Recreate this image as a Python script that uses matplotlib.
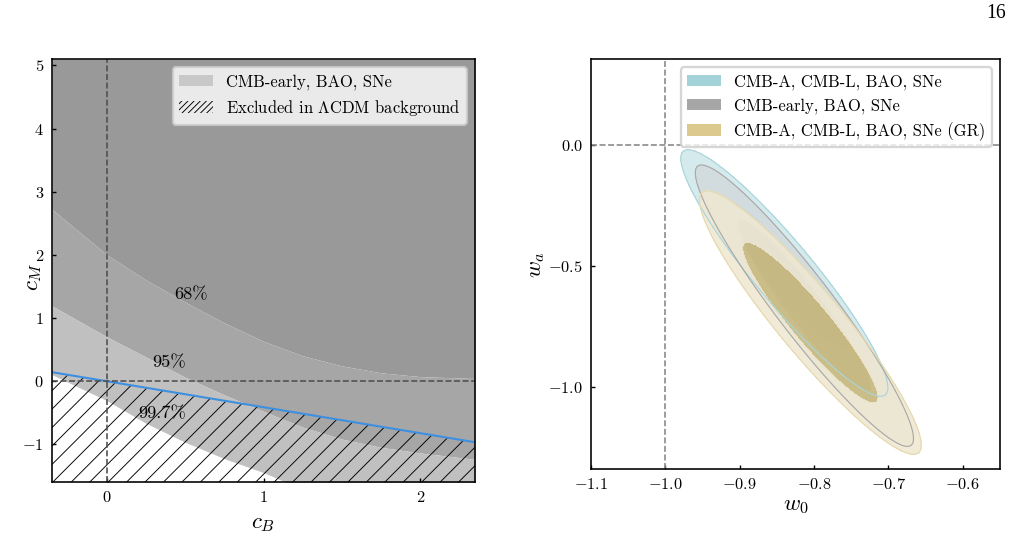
import numpy as np
import matplotlib
matplotlib.use('Agg')
import matplotlib.pyplot as plt
from matplotlib.patches import Patch

plt.rcParams['font.family'] = 'serif'
plt.rcParams['font.serif'] = ['cmr10']
plt.rcParams['mathtext.fontset'] = 'cm'
plt.rcParams['axes.formatter.use_mathtext'] = True
plt.rcParams['hatch.linewidth'] = 0.4
plt.rcParams['xtick.direction'] = 'in'
plt.rcParams['ytick.direction'] = 'in'

# left panel: c_B - c_M confidence regions (CMB-early, BAO, SNe)
cb_grid = [-0.35, 0.0, 0.25, 0.5, 0.75, 1.0, 1.25, 1.5, 1.75, 2.0, 2.35]
cm_68 = [2.72, 2.0, 1.6, 1.25, 0.92, 0.63, 0.4, 0.24, 0.13, 0.07, 0.04]
cm_95 = [1.19, 0.7, 0.38, 0.06, -0.22, -0.48, -0.73, -0.92, -1.05, -1.14, -1.24]
cm_997 = [0.1, -0.31, -0.67, -0.97, -1.23, -1.45, -1.72, -1.95, -2.15, -2.3, -2.5]
cb_line = [-0.35, 2.35]
cm_line = [0.14, -0.97]
conf_labels = ['68%', '95%', '99.7%']
conf_cb = [0.54, 0.40, 0.35]
conf_cm = [1.37, 0.29, -0.51]

# right panel: w0 - wa posteriors (gaussian approximation)
datasets = ['CMB-A, CMB-L, BAO, SNe', 'CMB-early, BAO, SNe',
            'CMB-A, CMB-L, BAO, SNe (GR)']
w0_mean = [-0.84, -0.813, -0.805]
wa_mean = [-0.53, -0.665, -0.735]
w0_sigma = [0.056, 0.059, 0.06]
wa_sigma = [0.205, 0.234, 0.219]
corr = [-0.93, -0.944, -0.93]

fig = plt.figure(figsize=(1014 / 166, 550 / 166), dpi=166)

# ---- left panel
ax1 = fig.add_axes([0.0513, 0.1236, 0.4172, 0.769])
ax1.set_xlim(-0.35, 2.35)
ax1.set_ylim(-1.6, 5.1)
ax1.fill_between(cb_grid, cm_68, 5.1, color='#999999', lw=0)
ax1.fill_between(cb_grid, cm_95, cm_68, color='#a6a6a6', lw=0)
ax1.fill_between(cb_grid, cm_997, cm_95, color='#c0c0c0', lw=0)
ax1.fill_between(cb_line, cm_line, -1.6, facecolor='none', edgecolor='black',
                 hatch='///', lw=0)
ax1.plot(cb_line, cm_line, color='#3d8fe0', lw=0.9)
ax1.axhline(0, color='#505050', ls='--', lw=0.7)
ax1.axvline(0, color='#505050', ls='--', lw=0.7)
for lab, x, y in zip(conf_labels, conf_cb, conf_cm):
    ax1.text(x, y, lab, fontsize=8, ha='center', va='center')

handles1 = [Patch(facecolor='#c8c8c8', edgecolor='none'),
            Patch(facecolor='none', edgecolor='black', hatch='/////////', lw=0)]
ax1.legend(handles1, ['CMB-early, BAO, SNe', r'Excluded in $\Lambda$CDM background'],
           loc='upper right', fontsize=7.2, fancybox=True)
ax1.set_xticks([0, 1, 2])
ax1.set_yticks([-1, 0, 1, 2, 3, 4, 5])
ax1.set_xlabel(r'$c_B$', fontsize=10)
ax1.set_ylabel(r'$c_M$', fontsize=10, va='center')
ax1.yaxis.set_label_coords(-0.042, 0.485)

# ---- right panel
ax2 = fig.add_axes([0.5828, 0.1473, 0.4034, 0.7455])
ax2.set_xlim(-1.1, -0.55)
ax2.set_ylim(-1.34, 0.355)

W0, WA = np.meshgrid(np.linspace(-1.1, -0.55, 500), np.linspace(-1.34, 0.355, 500))
fill_colors = [['#bfe0e4', '#d5eaec'], ['#a9abad', '#d2d6d9'], ['#c9b97c', '#efe8d2']]
fill_alpha = [1.0, 0.75, 0.88]
swatch = ['#a3d3d8', '#a6a6a6', '#dbc98e']
chi2 = []
for i in range(len(datasets)):
    dx = (W0 - w0_mean[i]) / w0_sigma[i]
    dy = (WA - wa_mean[i]) / wa_sigma[i]
    r = corr[i]
    c = (dx ** 2 - 2 * r * dx * dy + dy ** 2) / (1 - r ** 2)
    chi2.append(c)
    ax2.contourf(W0, WA, c, levels=[0, 2.30, 6.18], colors=fill_colors[i],
                 alpha=fill_alpha[i])

ax2.contour(W0, WA, chi2[0], levels=[6.18], colors='#a8d5da', linewidths=0.5)
ax2.contour(W0, WA, chi2[1], levels=[6.18], colors='#a8a8a8', linewidths=0.5)
ax2.contour(W0, WA, chi2[2], levels=[6.18], colors='#e6d9ad', linewidths=0.5)

ax2.axhline(0, color='#888888', ls='--', lw=0.7)
ax2.axvline(-1, color='#888888', ls='--', lw=0.7)

handles2 = [Patch(facecolor=c, edgecolor='none') for c in swatch]
ax2.legend(handles2, datasets, loc='upper right', fontsize=7.2, fancybox=True)
ax2.set_xticks([-1.1, -1.0, -0.9, -0.8, -0.7, -0.6])
ax2.set_yticks([-1.0, -0.5, 0.0])
ax2.set_xlabel(r'$w_0$', fontsize=10, labelpad=2)
ax2.set_ylabel(r'$w_a$', fontsize=10, va='center')
ax2.yaxis.set_label_coords(-0.132, 0.497)

for ax in (ax1, ax2):
    ax.tick_params(labelsize=7.1, length=1.9, width=0.6)
    for s in ax.spines.values():
        s.set_linewidth(0.7)

fig.text(0.982, 0.975, '16', fontsize=8.5, family='Liberation Serif',
         ha='center', va='center')

fig.savefig('out.png', dpi=166)
